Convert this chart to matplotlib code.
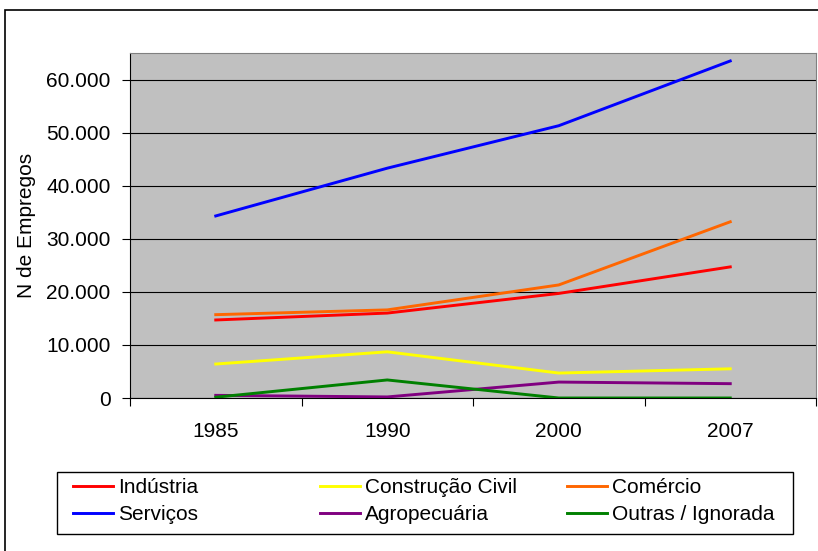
import matplotlib.pyplot as plt
from matplotlib.patches import Rectangle
from matplotlib.ticker import FuncFormatter, FixedLocator

plt.rcParams["font.family"] = ["Liberation Sans", "DejaVu Sans"]

# Dados
anos = ["1985", "1990", "2000", "2007"]
industria = [14700, 16000, 19700, 24700]
construcao = [6400, 8700, 4700, 5500]
comercio = [15700, 16600, 21300, 33200]
servicos = [34300, 43300, 51300, 63500]
agropecuaria = [500, 200, 3000, 2700]
outras = [150, 3400, 0, 0]

series = [
    ("Indústria", industria, "#FF0000"),
    ("Construção Civil", construcao, "#FFFF00"),
    ("Comércio", comercio, "#FF6600"),
    ("Serviços", servicos, "#0000FF"),
    ("Agropecuária", agropecuaria, "#800080"),
    ("Outras / Ignorada", outras, "#008000"),
]

FS = 15

fig = plt.figure(figsize=(8.18, 5.51), dpi=100)
ax = fig.add_axes([130 / 818, 1 - 398 / 551, 686 / 818, 345 / 551])
ax.set_facecolor("#C0C0C0")

x = list(range(len(anos)))
handles = {}
for nome, vals, cor in series:
    (ln,) = ax.plot(x, vals, color=cor, lw=2.1, label=nome, zorder=3)
    handles[nome] = ln

ax.set_xlim(-0.5, len(anos) - 0.5)
ax.set_ylim(0, 65000)
ax.set_yticks(range(0, 60001, 10000))
ax.yaxis.set_major_formatter(FuncFormatter(lambda v, p: f"{int(v):,}".replace(",", ".")))
ax.grid(axis="y", color="black", lw=0.8, zorder=1)
ax.set_axisbelow(True)

ax.set_xticks(x)
ax.set_xticklabels(anos)
ax.xaxis.set_minor_locator(FixedLocator([i - 0.5 for i in range(len(anos) + 1)]))
ax.tick_params(axis="x", which="major", length=0, pad=17, labelsize=FS)
ax.tick_params(axis="x", which="minor", length=6, width=0.8, color="black")
ax.tick_params(axis="y", length=6, width=0.8, pad=8, labelsize=FS)

for lado in ["top", "right"]:
    ax.spines[lado].set_color("#808080")
for lado in ["left", "bottom"]:
    ax.spines[lado].set_color("black")

ax.set_ylabel("N de Empregos", fontsize=FS)
ax.yaxis.set_label_coords(-0.137, 0.5)

# Borda da figura
fig.patches.append(Rectangle((5 / 818, -0.1), 1.1, 1 - 10 / 551 + 0.1,
                             transform=fig.transFigure, fill=False,
                             edgecolor="black", lw=1.2))

# Legenda (3 colunas)
fig.patches.append(Rectangle((57 / 818, 1 - 534 / 551), 736 / 818, 62 / 551,
                             transform=fig.transFigure, fill=False,
                             edgecolor="black", lw=1.0))
colunas = [
    (["Indústria", "Serviços"], 73),
    (["Construção Civil", "Agropecuária"], 320),
    (["Comércio", "Outras / Ignorada"], 567),
]
for nomes, x0 in colunas:
    fig.legend([handles[n] for n in nomes], nomes, loc="upper left",
               bbox_to_anchor=(x0 / 818, 1 - 478 / 551), frameon=False,
               fontsize=FS, handlelength=1.9, handletextpad=0.25,
               labelspacing=0.4, borderpad=0, borderaxespad=0)

fig.savefig("out.png", dpi=100)
